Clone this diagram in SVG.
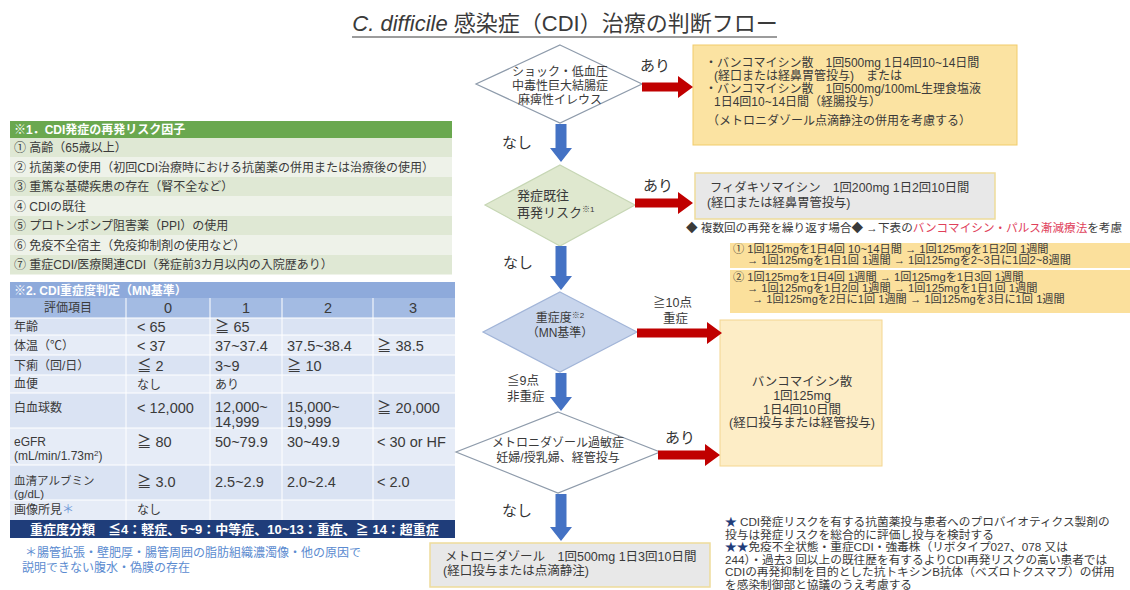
<svg xmlns="http://www.w3.org/2000/svg" width="1130" height="590" viewBox="0 0 1130 590">
<style>
text{font-family:'Liberation Sans','Noto Sans CJK JP',sans-serif;fill:#3a3a3a}
.t1{font-size:11.5px}
.t2{font-size:12px}
.tb{font-size:14.5px}
.wh{fill:#fff;font-weight:bold}
.lab{font-size:15px;fill:#333}
.red{fill:#c00000}
.blue{fill:#4472c4}
.yb{fill:#fbe3a2;stroke:#f1cc6a;stroke-width:1}
.yb2{fill:#fdedc6;stroke:#f4d690;stroke-width:1}
.gb{fill:#e8e8e8;stroke:#eedc9a;stroke-width:1.5}
.c{text-anchor:middle}
.pl{font-size:11.2px}
.nt{font-size:11.7px}
</style>
<rect width="1130" height="590" fill="#fff"/>

<g id="title">
<text x="565" y="31" class="c" style="font-size:22px;fill:#3a3a3a"><tspan font-style="italic">C. difficile</tspan> 感染症（CDI）治療の判断フロー</text>
<line x1="352" y1="37" x2="777" y2="37" stroke="#3a3a3a" stroke-width="1.2"/>
</g>

<g id="risk-panel">
<rect x="10" y="121" width="442" height="17" fill="#6aa84f"/>
<text x="14" y="134" class="t2 wh">※1．CDI発症の再発リスク因子</text>
<rect x="10" y="138" width="442" height="19.5" fill="#dfe8d4"/>
<rect x="10" y="157.5" width="442" height="19.5" fill="#eef2e9"/>
<rect x="10" y="177" width="442" height="19.5" fill="#dfe8d4"/>
<rect x="10" y="196.5" width="442" height="19.5" fill="#eef2e9"/>
<rect x="10" y="216" width="442" height="19.5" fill="#dfe8d4"/>
<rect x="10" y="235.5" width="442" height="19.5" fill="#eef2e9"/>
<rect x="10" y="255" width="442" height="19.5" fill="#dfe8d4"/>
<text x="14" y="152" class="t2">① 高齢（65歳以上）</text>
<text x="14" y="171.5" class="t2">② 抗菌薬の使用（初回CDI治療時における抗菌薬の併用または治療後の使用）</text>
<text x="14" y="191" class="t2">③ 重篤な基礎疾患の存在（腎不全など）</text>
<text x="14" y="210.5" class="t2">④ CDIの既往</text>
<text x="14" y="230" class="t2">⑤ プロトンポンプ阻害薬（PPI）の使用</text>
<text x="14" y="249.5" class="t2">⑥ 免疫不全宿主（免疫抑制剤の使用など）</text>
<text x="14" y="269" class="t2">⑦ 重症CDI/医療関連CDI（発症前3カ月以内の入院歴あり）</text>
</g>

<g id="severity-table">
<rect x="10" y="282" width="445" height="16" fill="#8eaadb"/>
<text x="14" y="294.5" class="t2 wh">※2. CDI重症度判定（MN基準）</text>
<rect x="10" y="298" width="445" height="20" fill="#a3bbe3"/>
<rect x="10" y="318" width="445" height="17" fill="#dae3f3"/>
<rect x="10" y="335" width="445" height="20" fill="#e6ecf7"/>
<rect x="10" y="355" width="445" height="20" fill="#dae3f3"/>
<rect x="10" y="375" width="445" height="18" fill="#e6ecf7"/>
<rect x="10" y="393" width="445" height="35" fill="#dae3f3"/>
<rect x="10" y="428" width="445" height="37" fill="#e6ecf7"/>
<rect x="10" y="465" width="445" height="35" fill="#dae3f3"/>
<rect x="10" y="500" width="445" height="20" fill="#e6ecf7"/>
<g stroke="#fff" stroke-width="1">
<line x1="126" y1="298" x2="126" y2="520"/>
<line x1="210" y1="298" x2="210" y2="520"/>
<line x1="282" y1="298" x2="282" y2="520"/>
<line x1="373" y1="298" x2="373" y2="520"/>
<line x1="10" y1="318" x2="455" y2="318"/>
<line x1="10" y1="335" x2="455" y2="335"/>
<line x1="10" y1="355" x2="455" y2="355"/>
<line x1="10" y1="375" x2="455" y2="375"/>
<line x1="10" y1="393" x2="455" y2="393"/>
<line x1="10" y1="428" x2="455" y2="428"/>
<line x1="10" y1="465" x2="455" y2="465"/>
<line x1="10" y1="500" x2="455" y2="500"/>
</g>
<text x="68" y="312" class="t2 c">評価項目</text>
<text x="168" y="313" class="tb c">0</text>
<text x="246" y="313" class="tb c">1</text>
<text x="328" y="313" class="tb c">2</text>
<text x="413" y="313" class="tb c">3</text>

<text x="14" y="331" class="t2">年齢</text>
<text x="137" y="332" class="tb">&lt; 65</text>
<text x="215" y="332" class="tb">≧ 65</text>

<text x="14" y="350" class="t2">体温（℃）</text>
<text x="137" y="351" class="tb">&lt; 37</text>
<text x="215" y="351" class="tb">37~37.4</text>
<text x="287" y="351" class="tb">37.5~38.4</text>
<text x="377" y="351" class="tb">≧ 38.5</text>

<text x="14" y="370" class="t2">下痢（回/日）</text>
<text x="137" y="371" class="tb">≦ 2</text>
<text x="215" y="371" class="tb">3~9</text>
<text x="287" y="371" class="tb">≧ 10</text>

<text x="14" y="388" class="t2">血便</text>
<text x="137" y="389" class="t2">なし</text>
<text x="215" y="389" class="t2">あり</text>

<text x="14" y="412" class="t2">白血球数</text>
<text x="137" y="413" class="tb">&lt; 12,000</text>
<text x="215" y="412" class="tb">12,000~</text>
<text x="215" y="427" class="tb">14,999</text>
<text x="287" y="412" class="tb">15,000~</text>
<text x="287" y="427" class="tb">19,999</text>
<text x="377" y="413" class="tb">≧ 20,000</text>

<text x="14" y="446" class="t2">eGFR</text>
<text x="14" y="460" class="t2">(mL/min/1.73m<tspan font-size="8" dy="-4">2</tspan><tspan dy="4">)</tspan></text>
<text x="137" y="447" class="tb">≧ 80</text>
<text x="215" y="447" class="tb">50~79.9</text>
<text x="287" y="447" class="tb">30~49.9</text>
<text x="377" y="447" class="tb">&lt; 30 or HF</text>

<text x="14" y="484.5" class="t1">血清アルブミン</text>
<text x="14" y="497.5" class="t1">(g/dL)</text>
<text x="137" y="487" class="tb">≧ 3.0</text>
<text x="215" y="487" class="tb">2.5~2.9</text>
<text x="287" y="487" class="tb">2.0~2.4</text>
<text x="377" y="487" class="tb">&lt; 2.0</text>

<text x="14" y="514" class="t2">画像所見<tspan fill="#6f9ad8">＊</tspan></text>
<text x="137" y="514" class="t2">なし</text>

<rect x="10" y="520" width="445" height="18" fill="#1f3d7a"/>
<text x="30" y="534" class="wh" style="font-size:13px">重症度分類　≦4：軽症、5~9：中等症、10~13：重症、≧ 14：超重症</text>

<text x="25" y="557" class="t2" style="fill:#5b8bd0">＊腸管拡張・壁肥厚・腸管周囲の脂肪組織濃濁像・他の原因で</text>
<text x="22" y="572" class="t2" style="fill:#5b8bd0">説明できない腹水・偽膜の存在</text>
</g>

<g id="d1">
<polygon points="560,45 642,84 560,123 476,84" fill="#fff" stroke="#8e9bab" stroke-width="1.2"/>
<text x="560" y="76" class="t2 c">ショック・低血圧</text>
<text x="560" y="90" class="t2 c">中毒性巨大結腸症</text>
<text x="560" y="104" class="t2 c">麻痺性イレウス</text>
</g>

<g id="d2">
<polygon points="560,165 635,205 560,246 485,205" fill="#dfe8cf" stroke="#c6d6b4" stroke-width="1.2"/>
<text x="517" y="200" style="font-size:13px">発症既往</text>
<text x="517" y="217" style="font-size:13px">再発リスク<tspan font-size="8" dy="-5">※1</tspan></text>
</g>

<g id="d3">
<polygon points="560,292 637,332 560,372 483,332" fill="#c8d5ec" stroke="#a2b5d8" stroke-width="1.2"/>
<text x="560" y="322" class="t2 c">重症度<tspan font-size="8" dy="-4">※2</tspan></text>
<text x="560" y="337" class="t2 c">（MN基準）</text>
</g>

<g id="d4">
<polygon points="558,412 660,452 558,493 456,452" fill="#fff" stroke="#8e9bab" stroke-width="1.2"/>
<text x="558" y="447" class="t2 c">メトロニダゾール過敏症</text>
<text x="558" y="462" class="t2 c">妊婦/授乳婦、経管投与</text>
</g>

<g id="box-severe-shock">
<rect x="693" y="45" width="324" height="100" class="yb"/>
<text x="705" y="67" class="t2">・バンコマイシン散　1回500mg 1日4回10~14日間</text>
<text x="714" y="80" class="t2">(経口または経鼻胃管投与)　または</text>
<text x="705" y="93" class="t2">・バンコマイシン散　1回500mg/100mL生理食塩液</text>
<text x="714" y="106" class="t2">1日4回10~14日間（経腸投与）</text>
<text x="707" y="125" class="t2">（メトロニダゾール点滴静注の併用を考慮する）</text>
</g>

<g id="box-fidaxomicin">
<rect x="695" y="173" width="300" height="46" class="gb"/>
<text x="710" y="192" style="font-size:12.3px">フィダキソマイシン　1回200mg 1日2回10日間</text>
<text x="707" y="207" style="font-size:12.3px">(経口または経鼻胃管投与)</text>
</g>

<g id="pulse-note">
<text x="686" y="232" style="font-size:11.6px">◆ 複数回の再発を繰り返す場合◆ →下表の<tspan fill="#e0405a">バンコマイシン・パルス漸減療法</tspan>を考慮</text>
<rect x="730" y="243" width="400" height="25" fill="#fbe09c"/>
<rect x="730" y="270" width="400" height="43" fill="#fbe09c"/>
<text x="733" y="253" class="pl">① 1回125mgを1日4回 10~14日間 → 1回125mgを1日2回 1週間</text>
<text x="747" y="264" class="pl">→ 1回125mgを1日1回 1週間 → 1回125mgを2~3日に1回2~8週間</text>
<text x="733" y="281" class="pl">② 1回125mgを1日4回 1週間 → 1回125mgを1日3回 1週間</text>
<text x="747" y="292" class="pl">→ 1回125mgを1日2回 1週間 → 1回125mgを1日1回 1週間</text>
<text x="752" y="303" class="pl">→ 1回125mgを2日に1回 1週間 → 1回125mgを3日に1回 1週間</text>
</g>

<g id="box-vancomycin">
<rect x="720" y="320" width="162" height="146" class="yb2"/>
<text x="802" y="386" class="c" style="font-size:12.5px">バンコマイシン散</text>
<text x="802" y="400" class="c" style="font-size:12.5px">1回125mg</text>
<text x="802" y="414" class="c" style="font-size:12.5px">1日4回10日間</text>
<text x="802" y="427" class="c" style="font-size:12.5px">(経口投与または経管投与)</text>
</g>

<g id="box-metronidazole">
<rect x="430" y="543" width="280" height="44" class="gb"/>
<text x="445" y="561" style="font-size:12.5px">メトロニダゾール　1回500mg 1日3回10日間</text>
<text x="443" y="575" style="font-size:12.5px">(経口投与または点滴静注)</text>
</g>

<g id="notes">
<text x="725" y="526" class="nt"><tspan fill="#1f3d7a">★</tspan> CDI発症リスクを有する抗菌薬投与患者へのプロバイオティクス製剤の</text>
<text x="725" y="538.6" class="nt">投与は発症リスクを総合的に評価し投与を検討する</text>
<text x="725" y="551.2" class="nt"><tspan fill="#1f3d7a">★★</tspan>免疫不全状態・重症CDI・強毒株（リボタイプ027、078 又は</text>
<text x="725" y="563.8" class="nt">244）・過去3 回以上の既往歴を有するよりCDI再発リスクの高い患者では</text>
<text x="725" y="576.4" class="nt">CDIの再発抑制を目的とした抗トキシンB抗体（ベズロトクスマブ）の併用</text>
<text x="725" y="589" class="nt">を感染制御部と協議のうえ考慮する</text>
</g>

<g id="connectors">
<polygon class="red" points="642,82.5 678,82.5 678,76 693,87 678,98 678,91.5 642,91.5"/>
<polygon class="red" points="635,198.5 678,198.5 678,192 693,203 678,214 678,207.5 635,207.5"/>
<polygon class="red" points="637,328.5 707,328.5 707,322 722,333 707,344 707,337.5 637,337.5"/>
<polygon class="red" points="658,450.5 705,450.5 705,444 720,455 705,466 705,459.5 658,459.5"/>
<polygon class="blue" points="555.5,124 566.5,124 566.5,148 572,148 561,162 550,148 555.5,148"/>
<polygon class="blue" points="555.5,246 566.5,246 566.5,276 572,276 561,290 550,276 555.5,276"/>
<polygon class="blue" points="555.5,373 566.5,373 566.5,397 572,397 561,411 550,397 555.5,397"/>
<polygon class="blue" points="555.5,494 566.5,494 566.5,527 572,527 561,541 550,527 555.5,527"/>
<text x="640" y="71" class="lab">あり</text>
<text x="643" y="191" class="lab">あり</text>
<text x="653" y="307" style="font-size:12.5px">≧10点</text>
<text x="663" y="323" style="font-size:12.5px">重症</text>
<text x="665" y="443" class="lab">あり</text>
<text x="502" y="148" class="lab">なし</text>
<text x="503" y="268" class="lab">なし</text>
<text x="507" y="385" style="font-size:12.5px">≦9点</text>
<text x="507" y="401" style="font-size:12.5px">非重症</text>
<text x="502" y="516" class="lab">なし</text>
</g>
</svg>
